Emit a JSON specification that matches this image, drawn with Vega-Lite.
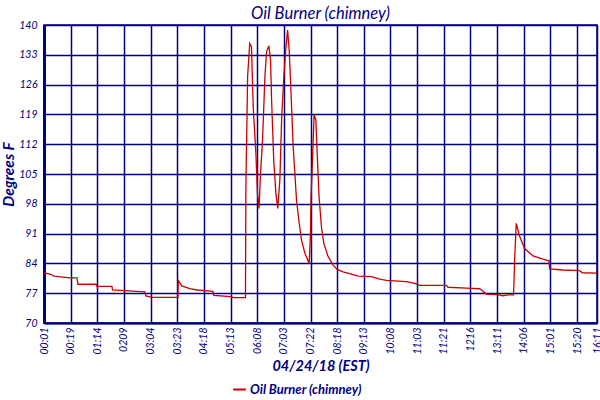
{
  "$schema": "https://vega.github.io/schema/vega-lite/v6.json",
  "width": 553,
  "height": 298,
  "autosize": "none",
  "padding": {"left": 44, "top": 25, "right": 3, "bottom": 77},
  "background": "white",
  "title": {
    "text": "Oil Burner (chimney)",
    "font": "Lato",
    "fontStyle": "italic",
    "fontWeight": "normal",
    "fontSize": 16.5,
    "color": "#000080",
    "offset": -2
  },
  "data": {
    "values": [
      {"t": 0, "temp": 81.8, "series": "Oil Burner (chimney)"},
      {"t": 0.225, "temp": 81.5, "series": "Oil Burner (chimney)"},
      {"t": 0.375, "temp": 81.0, "series": "Oil Burner (chimney)"},
      {"t": 0.975, "temp": 80.6, "series": "Oil Burner (chimney)"},
      {"t": 1.237, "temp": 80.6, "series": "Oil Burner (chimney)"},
      {"t": 1.275, "temp": 79.1, "series": "Oil Burner (chimney)"},
      {"t": 1.95, "temp": 79.1, "series": "Oil Burner (chimney)"},
      {"t": 1.987, "temp": 78.6, "series": "Oil Burner (chimney)"},
      {"t": 2.55, "temp": 78.6, "series": "Oil Burner (chimney)"},
      {"t": 2.57, "temp": 77.75, "series": "Oil Burner (chimney)"},
      {"t": 3.787, "temp": 77.3, "series": "Oil Burner (chimney)"},
      {"t": 3.825, "temp": 76.35, "series": "Oil Burner (chimney)"},
      {"t": 4.05, "temp": 76.0, "series": "Oil Burner (chimney)"},
      {"t": 5.025, "temp": 76.0, "series": "Oil Burner (chimney)"},
      {"t": 5.035, "temp": 80.0, "series": "Oil Burner (chimney)"},
      {"t": 5.17, "temp": 78.7, "series": "Oil Burner (chimney)"},
      {"t": 5.47, "temp": 78.1, "series": "Oil Burner (chimney)"},
      {"t": 5.74, "temp": 77.75, "series": "Oil Burner (chimney)"},
      {"t": 6.34, "temp": 77.45, "series": "Oil Burner (chimney)"},
      {"t": 6.37, "temp": 76.5, "series": "Oil Burner (chimney)"},
      {"t": 7.01, "temp": 76.2, "series": "Oil Burner (chimney)"},
      {"t": 7.09, "temp": 75.95, "series": "Oil Burner (chimney)"},
      {"t": 7.56, "temp": 75.95, "series": "Oil Burner (chimney)"},
      {"t": 7.574, "temp": 101.2, "series": "Oil Burner (chimney)"},
      {"t": 7.64, "temp": 127.9, "series": "Oil Burner (chimney)"},
      {"t": 7.72, "temp": 135.7, "series": "Oil Burner (chimney)"},
      {"t": 7.785, "temp": 134.9, "series": "Oil Burner (chimney)"},
      {"t": 7.85, "temp": 120.8, "series": "Oil Burner (chimney)"},
      {"t": 7.95, "temp": 109.9, "series": "Oil Burner (chimney)"},
      {"t": 8.01, "temp": 100.5, "series": "Oil Burner (chimney)"},
      {"t": 8.07, "temp": 96.9, "series": "Oil Burner (chimney)"},
      {"t": 8.125, "temp": 105.2, "series": "Oil Burner (chimney)"},
      {"t": 8.2, "temp": 113.0, "series": "Oil Burner (chimney)"},
      {"t": 8.29, "temp": 127.9, "series": "Oil Burner (chimney)"},
      {"t": 8.35, "temp": 133.7, "series": "Oil Burner (chimney)"},
      {"t": 8.44, "temp": 135.1, "series": "Oil Burner (chimney)"},
      {"t": 8.5, "temp": 131.8, "series": "Oil Burner (chimney)"},
      {"t": 8.54, "temp": 122.4, "series": "Oil Burner (chimney)"},
      {"t": 8.62, "temp": 108.3, "series": "Oil Burner (chimney)"},
      {"t": 8.7, "temp": 100.5, "series": "Oil Burner (chimney)"},
      {"t": 8.77, "temp": 96.9, "series": "Oil Burner (chimney)"},
      {"t": 8.85, "temp": 103.6, "series": "Oil Burner (chimney)"},
      {"t": 8.92, "temp": 118.5, "series": "Oil Burner (chimney)"},
      {"t": 9.0, "temp": 127.9, "series": "Oil Burner (chimney)"},
      {"t": 9.07, "temp": 134.1, "series": "Oil Burner (chimney)"},
      {"t": 9.14, "temp": 138.8, "series": "Oil Burner (chimney)"},
      {"t": 9.2, "temp": 134.1, "series": "Oil Burner (chimney)"},
      {"t": 9.26, "temp": 125.5, "series": "Oil Burner (chimney)"},
      {"t": 9.35, "temp": 111.4, "series": "Oil Burner (chimney)"},
      {"t": 9.475, "temp": 98.9, "series": "Oil Burner (chimney)"},
      {"t": 9.56, "temp": 94.2, "series": "Oil Burner (chimney)"},
      {"t": 9.66, "temp": 89.5, "series": "Oil Burner (chimney)"},
      {"t": 9.79, "temp": 86.4, "series": "Oil Burner (chimney)"},
      {"t": 9.95, "temp": 84.0, "series": "Oil Burner (chimney)"},
      {"t": 10.0, "temp": 91.1, "series": "Oil Burner (chimney)"},
      {"t": 10.02, "temp": 99.7, "series": "Oil Burner (chimney)"},
      {"t": 10.075, "temp": 108.3, "series": "Oil Burner (chimney)"},
      {"t": 10.135, "temp": 118.9, "series": "Oil Burner (chimney)"},
      {"t": 10.2, "temp": 117.7, "series": "Oil Burner (chimney)"},
      {"t": 10.25, "temp": 109.9, "series": "Oil Burner (chimney)"},
      {"t": 10.32, "temp": 99.7, "series": "Oil Burner (chimney)"},
      {"t": 10.41, "temp": 92.6, "series": "Oil Burner (chimney)"},
      {"t": 10.5, "temp": 88.7, "series": "Oil Burner (chimney)"},
      {"t": 10.66, "temp": 85.6, "series": "Oil Burner (chimney)"},
      {"t": 10.85, "temp": 83.6, "series": "Oil Burner (chimney)"},
      {"t": 11.0, "temp": 82.6, "series": "Oil Burner (chimney)"},
      {"t": 11.22, "temp": 82.0, "series": "Oil Burner (chimney)"},
      {"t": 11.47, "temp": 81.6, "series": "Oil Burner (chimney)"},
      {"t": 11.785, "temp": 81.0, "series": "Oil Burner (chimney)"},
      {"t": 12.29, "temp": 80.9, "series": "Oil Burner (chimney)"},
      {"t": 12.6, "temp": 80.3, "series": "Oil Burner (chimney)"},
      {"t": 12.85, "temp": 80.0, "series": "Oil Burner (chimney)"},
      {"t": 13.6, "temp": 79.7, "series": "Oil Burner (chimney)"},
      {"t": 13.91, "temp": 79.3, "series": "Oil Burner (chimney)"},
      {"t": 14.1, "temp": 78.85, "series": "Oil Burner (chimney)"},
      {"t": 15.1, "temp": 78.85, "series": "Oil Burner (chimney)"},
      {"t": 15.16, "temp": 78.4, "series": "Oil Burner (chimney)"},
      {"t": 15.85, "temp": 78.2, "series": "Oil Burner (chimney)"},
      {"t": 16.35, "temp": 78.05, "series": "Oil Burner (chimney)"},
      {"t": 16.45, "temp": 77.6, "series": "Oil Burner (chimney)"},
      {"t": 16.6, "temp": 76.8, "series": "Oil Burner (chimney)"},
      {"t": 16.97, "temp": 76.7, "series": "Oil Burner (chimney)"},
      {"t": 17.22, "temp": 76.4, "series": "Oil Burner (chimney)"},
      {"t": 17.41, "temp": 76.6, "series": "Oil Burner (chimney)"},
      {"t": 17.62, "temp": 76.6, "series": "Oil Burner (chimney)"},
      {"t": 17.66, "temp": 84.8, "series": "Oil Burner (chimney)"},
      {"t": 17.72, "temp": 93.4, "series": "Oil Burner (chimney)"},
      {"t": 17.85, "temp": 90.3, "series": "Oil Burner (chimney)"},
      {"t": 18.035, "temp": 87.5, "series": "Oil Burner (chimney)"},
      {"t": 18.35, "temp": 85.75, "series": "Oil Burner (chimney)"},
      {"t": 18.72, "temp": 85.0, "series": "Oil Burner (chimney)"},
      {"t": 18.95, "temp": 84.6, "series": "Oil Burner (chimney)"},
      {"t": 18.97, "temp": 82.7, "series": "Oil Burner (chimney)"},
      {"t": 19.47, "temp": 82.45, "series": "Oil Burner (chimney)"},
      {"t": 20.1, "temp": 82.3, "series": "Oil Burner (chimney)"},
      {"t": 20.2, "temp": 81.8, "series": "Oil Burner (chimney)"},
      {"t": 20.75, "temp": 81.7, "series": "Oil Burner (chimney)"}
    ]
  },
  "mark": {"type": "line", "strokeWidth": 1.3, "interpolate": "linear"},
  "encoding": {
    "x": {
      "field": "t",
      "type": "quantitative",
      "scale": {"domain": [0, 20.75], "nice": false, "zero": false},
      "axis": {
        "title": "04/24/18 (EST)",
        "titleFont": "Lato",
        "titleFontStyle": "italic",
        "titleFontWeight": "bold",
        "titleFontSize": 14.5,
        "titleColor": "#000080",
        "titlePadding": 6,
        "values": [0, 1, 2, 3, 4, 5, 6, 7, 8, 9, 10, 11, 12, 13, 14, 15, 16, 17, 18, 19, 20, 20.75],
        "labelExpr": "datum.value > 20.5 ? '16:11' : ['00:01','00:19','01:14','0209','03:04','03:23','04:18','05:13','06:08','07:03','07:22','08:18','09:13','10:08','11:03','11:21','1216','13:11','14:06','15:01','15:20'][round(datum.value)]",
        "labelAngle": -90,
        "labelFont": "Lato",
        "labelFontStyle": "italic",
        "labelFontSize": 10.5,
        "labelColor": "#000080",
        "labelPadding": 4,
        "labelOverlap": false,
        "labelFlush": false,
        "ticks": false,
        "grid": true,
        "gridColor": "#000080",
        "gridWidth": 1.5,
        "gridOpacity": 1,
        "domainColor": "#000080",
        "domainWidth": 2
      }
    },
    "y": {
      "field": "temp",
      "type": "quantitative",
      "scale": {"domain": [70, 140], "nice": false, "zero": false},
      "axis": {
        "title": "Degrees F",
        "titleFont": "Lato",
        "titleFontStyle": "italic",
        "titleFontWeight": "bold",
        "titleFontSize": 15.5,
        "titleColor": "#000080",
        "titlePadding": 2,
        "values": [70, 77, 84, 91, 98, 105, 112, 119, 126, 133, 140],
        "labelFont": "Lato",
        "labelFontStyle": "italic",
        "labelFontSize": 10.5,
        "labelColor": "#000080",
        "labelPadding": 7,
        "ticks": false,
        "grid": true,
        "gridColor": "#000080",
        "gridWidth": 1.5,
        "gridOpacity": 1,
        "domainColor": "#000080",
        "domainWidth": 3
      }
    },
    "color": {
      "field": "series",
      "type": "nominal",
      "scale": {"range": ["#cc0000"]},
      "legend": {
        "title": null,
        "orient": "none",
        "legendX": 188,
        "legendY": 357,
        "symbolType": "stroke",
        "symbolSize": 160,
        "symbolStrokeWidth": 2,
        "labelFont": "Lato",
        "labelFontStyle": "italic",
        "labelFontWeight": "bold",
        "labelFontSize": 13,
        "labelColor": "#000080",
        "labelOffset": 3
      }
    }
  },
  "config": {
    "view": {"stroke": "#000080", "strokeWidth": 1.5}
  }
}
